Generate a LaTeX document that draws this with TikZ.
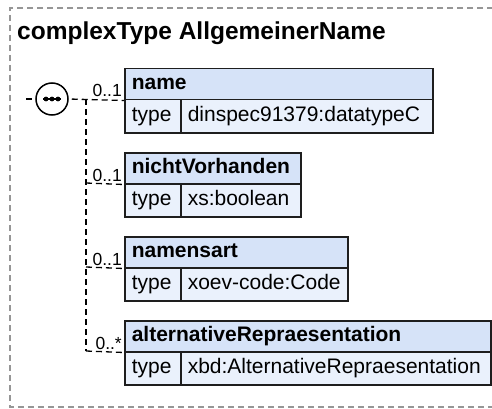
\documentclass[tikz,border=0pt]{standalone}
\usepackage{fontspec}
\setmainfont{Liberation Sans}
\definecolor{hdrblue}{RGB}{214,227,248}
\definecolor{rowblue}{RGB}{234,241,252}
\definecolor{bord}{RGB}{30,30,30}
\definecolor{outergray}{RGB}{150,150,150}
\begin{document}
\begin{tikzpicture}[x=1pt,y=-1pt,
  boxbase/.style={draw=bord, line width=1.5pt, anchor=north west, inner xsep=7pt, inner ysep=0pt, align=left, text height=15pt, text depth=4.5pt},
  hdr/.style={boxbase, fill=hdrblue, minimum height=31pt, font=\fontsize{21}{24}\selectfont\bfseries},
  rowk/.style={boxbase, fill=rowblue, minimum height=33pt, text width=42pt, font=\fontsize{21}{24}\selectfont},
  rowv/.style={boxbase, fill=rowblue, minimum height=33pt, font=\fontsize{21}{24}\selectfont},
  conn/.style={draw=black, line width=1.3pt, dash pattern=on 6pt off 4pt},
  lbl/.style={anchor=base east, inner sep=0pt, font=\fontsize{17.5}{20}\selectfont},
  outer/.style={draw=outergray, line width=1.3pt, dash pattern=on 6pt off 4pt}
]
\useasboundingbox (0,0) rectangle (492,409);
% outer dashed frame
\draw[outer] (493,8) -- (10,8) -- (10,407) -- (493,407);
% title
\node[anchor=base west, inner sep=0pt, font=\fontsize{24.5}{28}\selectfont\bfseries] (title) at (17,40) {complexType AllgemeinerName};

% sequence compositor
\node[draw=black, circle, minimum size=32pt, inner sep=0pt, line width=1.5pt, fill=white] (seq) at (52,99) {};
\draw[line width=1.5pt] (43,99) -- (61,99);
\fill (46,99) circle (2.4pt);
\fill (52,99) circle (2.4pt);
\fill (58,99) circle (2.4pt);
\coordinate (inL) at (26,99);
\draw[conn] (inL) -- (seq.west);

% elements
\node[hdr, text width=294pt] (nameH) at (124,68) {name};
\node[rowk] (nameK) at (124,99) {type};
\node[rowv, text width=238pt] (nameV) at (180,99) {dinspec91379:datatypeC};

\node[hdr, text width=162pt] (nichtH) at (124,152) {nichtVorhanden};
\node[rowk] (nichtK) at (124,183) {type};
\node[rowv, text width=106pt] (nichtV) at (180,183) {xs:boolean};

\node[hdr, text width=209pt] (artH) at (124,236) {namensart};
\node[rowk] (artK) at (124,267) {type};
\node[rowv, text width=153pt] (artV) at (180,267) {xoev-code:Code};

\node[hdr, text width=352pt] (altH) at (124,320) {alternativeRepraesentation};
\node[rowk] (altK) at (124,351) {type};
\node[rowv, text width=296pt] (altV) at (180,351) {xbd:AlternativeRepraesentation};

% connectors
\coordinate (j1) at (86,99);
\coordinate (j2) at (86,183);
\coordinate (j3) at (86,267);
\coordinate (j4) at (86,351);
\draw[conn, dash phase=7pt] (seq.east) -- (nameH.south west);
\draw[conn] (j1) -- (j4);
\draw[conn] (j2) -- (nichtH.south west);
\draw[conn] (j3) -- (artH.south west);
\draw[conn] (j4) -- (altH.south west);

% cardinality labels
\node[lbl] (c1) at (122,97) {0..1};
\node[lbl] (c2) at (122,181) {0..1};
\node[lbl] (c3) at (122,265) {0..1};
\node[lbl] (c4) at (122,349) {0..*};
\end{tikzpicture}
\end{document}
